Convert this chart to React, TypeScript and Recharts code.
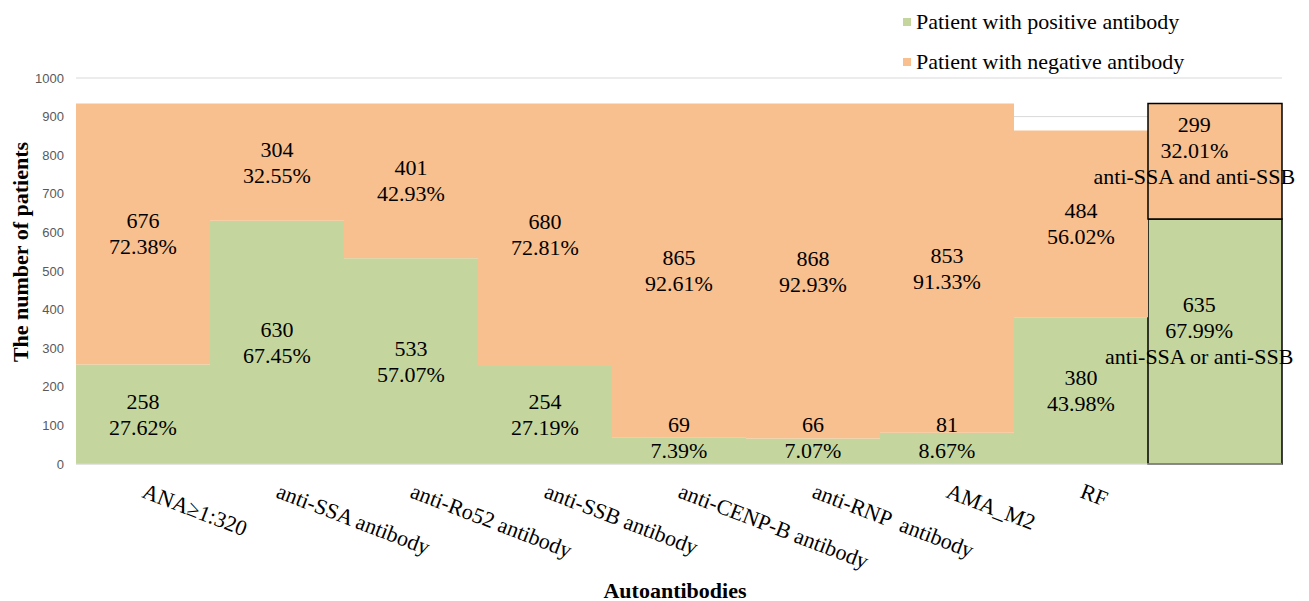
import { BarChart, Bar, XAxis, YAxis, CartesianGrid, Legend, LabelList, Cell, Label } from 'recharts';

const categories = [
  'ANA≥1:320',
  'anti-SSA antibody',
  'anti-Ro52 antibody',
  'anti-SSB antibody',
  'anti-CENP-B antibody',
  'anti-RNP  antibody',
  'AMA_M2',
  'RF',
  '',
];
const positive = [258, 630, 533, 254, 69, 66, 81, 380, 635];
const negative = [676, 304, 401, 680, 865, 868, 853, 484, 299];
const positivePct = ['27.62%', '67.45%', '57.07%', '27.19%', '7.39%', '7.07%', '8.67%', '43.98%', '67.99%'];
const negativePct = ['72.38%', '32.55%', '42.93%', '72.81%', '92.61%', '92.93%', '91.33%', '56.02%', '32.01%'];
const positiveNote = ['', '', '', '', '', '', '', '', 'anti-SSA or anti-SSB'];
const negativeNote = ['', '', '', '', '', '', '', '', 'anti-SSA and anti-SSB'];
const yTicks = [0, 100, 200, 300, 400, 500, 600, 700, 800, 900, 1000];

const data = categories.map((name, i) => ({ name, pos: positive[i], neg: negative[i] }));

const GREEN = '#c4d69e';
const ORANGE = '#f8bf8f';
const SERIF = "'Liberation Serif', 'Times New Roman', serif";
const W = 1301;
const H = 593;
const PLOT_BOTTOM = 456;
const RIGHT_LIMIT = 1288;
const LABEL_FS = 22;
const LINE_H = 26;

// excel keeps data labels inside the plot area, so clamp them the same way
const makeLabel = (pcts: string[], notes: string[]) => (props: any) => {
  const { x, y, width, height, index, value } = props;
  const lines = [String(value), pcts[index], notes[index]].filter((l) => l);
  const n = lines.length;
  let cx = x + width / 2;
  let cy = y + height / 2;
  if (n === 3) cy -= 11;
  cy = Math.min(cy, PLOT_BOTTOM - (n * LINE_H) / 2 - 1);
  const halfW = (Math.max(...lines.map((l) => l.length)) * LABEL_FS * 0.44) / 2;
  cx = Math.min(cx, RIGHT_LIMIT - halfW);
  return (
    <text textAnchor="middle" fontFamily={SERIF} fontSize={LABEL_FS} fill="#000">
      {lines.map((l, i) => (
        <tspan key={i} x={cx} y={cy + (i - (n - 1) / 2) * LINE_H} dominantBaseline="central">
          {l}
        </tspan>
      ))}
    </text>
  );
};

const XTick = ({ x, y, payload }: any) => (
  <g transform={`translate(${x - 2},${y + 25}) rotate(21)`}>
    <text x={0} y={0} textAnchor="start" fontFamily={SERIF} fontSize={LABEL_FS} fill="#000" style={{ whiteSpace: 'pre' }}>
      {payload.value}
    </text>
  </g>
);

const YTitle = ({ viewBox }: any) => {
  const cx = 12;
  const cy = viewBox.y + viewBox.height / 2 - 19;
  return (
    <text
      x={cx}
      y={cy}
      transform={`rotate(-90, ${cx}, ${cy})`}
      textAnchor="middle"
      dominantBaseline="central"
      fontFamily={SERIF}
      fontWeight="bold"
      fontSize={22}
      fill="#000"
    >
      The number of patients
    </text>
  );
};

const XTitle = ({ viewBox }: any) => (
  <text
    x={viewBox.x + viewBox.width / 2 - 4}
    y={viewBox.y + 126}
    textAnchor="middle"
    dominantBaseline="central"
    fontFamily={SERIF}
    fontWeight="bold"
    fontSize={22}
    fill="#000"
  >
    Autoantibodies
  </text>
);

const renderLegend = () => (
  <div style={{ fontFamily: SERIF, fontSize: 22, color: '#000' }}>
    {[
      { label: 'Patient with positive antibody', color: GREEN },
      { label: 'Patient with negative antibody', color: ORANGE },
    ].map((item) => (
      <div key={item.label} style={{ display: 'flex', alignItems: 'center', height: 40, whiteSpace: 'nowrap' }}>
        <span style={{ width: 8, height: 8, background: item.color, marginRight: 5, display: 'inline-block' }} />
        {item.label}
      </div>
    ))}
  </div>
);

export default function App() {
  return (
    <BarChart
      width={W}
      height={H}
      data={data}
      barCategoryGap={0}
      margin={{ top: 70, right: 27, left: 0, bottom: 0 }}
    >
      <CartesianGrid vertical={false} stroke="#d9d9d9" />
      <XAxis
        dataKey="name"
        interval={0}
        height={137}
        tickLine={false}
        axisLine={{ stroke: '#d9d9d9' }}
        tick={<XTick />}
      >
        <Label content={<XTitle />} />
      </XAxis>
      <YAxis
        domain={[0, 1000]}
        ticks={yTicks}
        interval={0}
        width={68}
        axisLine={false}
        tickLine={false}
        tickMargin={6}
        tick={{ fontFamily: "'Liberation Sans', Arial, sans-serif", fontSize: 13, fill: '#595959' }}
      >
        <Label content={<YTitle />} />
      </YAxis>
      <Legend
        layout="horizontal"
        verticalAlign="middle"
        align="center"
        wrapperStyle={{ left: 895, top: -6, width: 400 }}
        content={renderLegend}
      />
      <Bar dataKey="pos" stackId="a" fill={GREEN} isAnimationActive={false}>
        {data.map((_, i) => (
          <Cell key={i} stroke={i === 8 ? '#000' : 'none'} strokeWidth={i === 8 ? 1.5 : 0} />
        ))}
        <LabelList dataKey="pos" content={makeLabel(positivePct, positiveNote)} />
      </Bar>
      <Bar dataKey="neg" stackId="a" fill={ORANGE} isAnimationActive={false}>
        {data.map((_, i) => (
          <Cell key={i} stroke={i === 8 ? '#000' : 'none'} strokeWidth={i === 8 ? 1.5 : 0} />
        ))}
        <LabelList dataKey="neg" content={makeLabel(negativePct, negativeNote)} />
      </Bar>
    </BarChart>
  );
}
